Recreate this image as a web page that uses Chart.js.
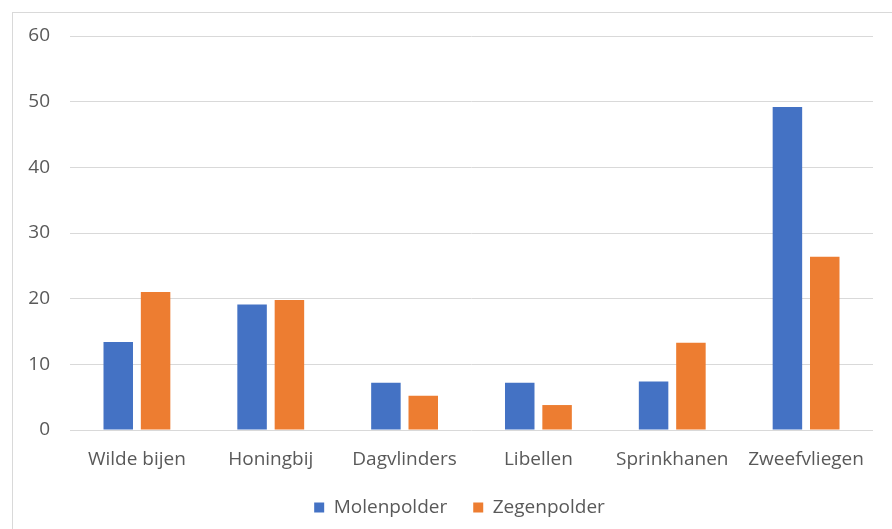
<!DOCTYPE html>
<html>
<head>
<meta charset="utf-8">
<script src="https://cdn.jsdelivr.net/npm/chart.js@4/dist/chart.umd.min.js"></script>
<style>
  html, body { margin: 0; padding: 0; background: #fff; overflow: hidden; }
  #wrap { position: relative; width: 892px; height: 529px; }
  #frame {
    position: absolute; left: 12px; top: 12px; right: -2px; bottom: -2px;
    border-left: 1px solid #d9d9d9; border-top: 1px solid #d9d9d9;
    pointer-events: none;
  }
  canvas { position: absolute; left: 0; top: 0; }
</style>
</head>
<body>
<div id="wrap">
  <canvas id="chart" width="892" height="529"></canvas>
  <div id="frame"></div>
</div>
<script>
// insect counts per group, two polders
const categories = ["Wilde bijen", "Honingbij", "Dagvlinders", "Libellen", "Sprinkhanen", "Zweefvliegen"];
const molenpolder = [13.4, 19.1, 7.2, 7.2, 7.4, 49.2];
const zegenpolder = [21.0, 19.8, 5.2, 3.8, 13.3, 26.4];
const yTicks = [0, 10, 20, 30, 40, 50, 60];

const BLUE = "#4472c4";
const ORANGE = "#ed7d31";
const TEXT = "#595959";
const GRID = "#d9d9d9";
const font = { family: "Open Sans, sans-serif", size: 19 };

// nudge the legend a bit right of the full-width centre
const legendShift = {
  id: "legendShift",
  afterLayout(chart) {
    const lg = chart.legend;
    if (!lg) return;
    lg.left += 23;
    lg.right += 23;
  },
};

new Chart(document.getElementById("chart"), {
  type: "bar",
  data: {
    labels: categories,
    datasets: [
      { label: "Molenpolder", data: molenpolder, backgroundColor: BLUE },
      { label: "Zegenpolder", data: zegenpolder, backgroundColor: ORANGE },
    ],
  },
  options: {
    responsive: false,
    animation: false,
    devicePixelRatio: 1,
    categoryPercentage: 0.558,
    barPercentage: 0.79,
    layout: { padding: { left: 0, right: 19, top: 36, bottom: 2 } },
    plugins: {
      tooltip: { enabled: false },
      legend: {
        position: "bottom",
        labels: {
          color: TEXT, font, boxWidth: 10, boxHeight: 10, padding: 26,
        },
      },
    },
    scales: {
      x: {
        grid: { display: false },
        border: { display: false },
        ticks: { color: TEXT, font, padding: 10, maxRotation: 0 },
        afterFit: s => { s.height = 42; },
      },
      y: {
        min: 0, max: 60,
        afterBuildTicks: s => { s.ticks = yTicks.map(v => ({ value: v })); },
        grid: { color: GRID, lineWidth: 1, drawTicks: false },
        border: { display: false },
        ticks: { color: TEXT, font, padding: 20 },
        afterFit: s => { s.width = 70; },
      },
    },
  },
  plugins: [legendShift],
});
</script>
</body>
</html>
